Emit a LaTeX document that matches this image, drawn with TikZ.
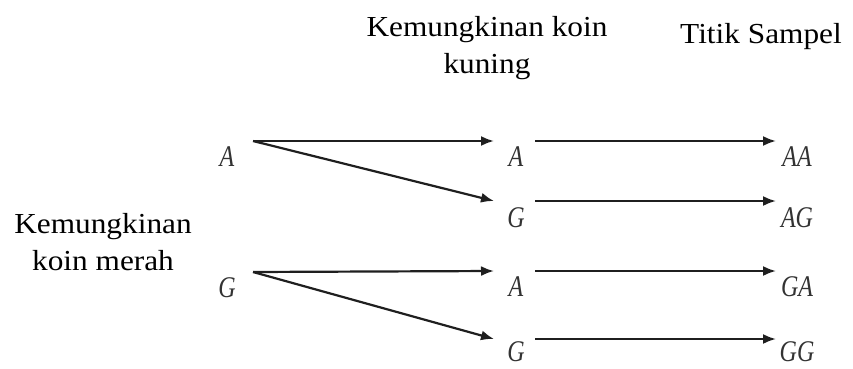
\documentclass[tikz,border=0pt]{standalone}
\usepackage{fontspec}
\setmainfont{Liberation Serif}
\newfontfamily\headfont[FakeStretch=1.08]{Liberation Serif}
\newfontfamily\letterfont[FakeStretch=0.8]{Liberation Serif}
\usetikzlibrary{arrows.meta}
\begin{document}
\begin{tikzpicture}[x=1pt,y=-1pt,
  head/.style={font=\headfont\fontsize{29}{37}\selectfont, align=center, inner sep=0pt},
  letter/.style={font=\letterfont\itshape\fontsize{30}{30}\selectfont, text=black!80, inner sep=0pt},
  arr/.style={draw=black!88, line width=2.2pt, -{Latex[length=13pt,width=10pt]}}]
\useasboundingbox (0,0) rectangle (853,369);

% headings
\node[head] (hk) at (487,48) {Kemungkinan koin\\kuning};
\node[head] (ht) at (761,37) {Titik Sampel};
\node[head] (hm) at (103,242) {Kemungkinan\\koin merah};

% first coin
\node[letter] (r1) at (227,157) {A};
\node[letter] (r2) at (227,288) {G};

% second coin
\node[letter] (k1) at (516,157) {A};
\node[letter] (k2) at (516,218) {G};
\node[letter] (k3) at (516,287) {A};
\node[letter] (k4) at (516,352) {G};

% sample points
\node[letter] (s1) at (797,157) {AA};
\node[letter] (s2) at (797,218) {AG};
\node[letter] (s3) at (797,287) {GA};
\node[letter] (s4) at (797,352) {GG};

% branches
\draw[arr] ([shift={(26pt,16pt)}]r1.center) -- ([shift={(-22pt,16pt)}]k1.center);
\draw[arr] ([shift={(26pt,16pt)}]r1.center) -- ([shift={(-22pt,17pt)}]k2.center);
\draw[arr] ([shift={(26pt,16pt)}]r2.center) -- ([shift={(-22pt,16pt)}]k3.center);
\draw[arr] ([shift={(26pt,16pt)}]r2.center) -- ([shift={(-22pt,13pt)}]k4.center);

\draw[arr] ([shift={(19pt,16pt)}]k1.center) -- ([shift={(-21pt,16pt)}]s1.center);
\draw[arr] ([shift={(19pt,17pt)}]k2.center) -- ([shift={(-21pt,17pt)}]s2.center);
\draw[arr] ([shift={(19pt,16pt)}]k3.center) -- ([shift={(-21pt,16pt)}]s3.center);
\draw[arr] ([shift={(19pt,13pt)}]k4.center) -- ([shift={(-21pt,13pt)}]s4.center);
\end{tikzpicture}
\end{document}
